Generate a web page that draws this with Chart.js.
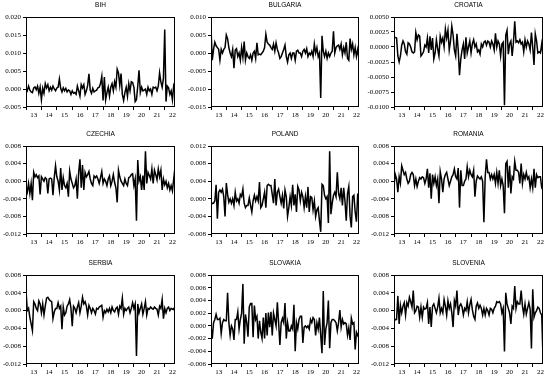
<!DOCTYPE html>
<html>
<head>
<meta charset="utf-8">
<script src="https://cdn.jsdelivr.net/npm/chart.js@4/dist/chart.umd.min.js"></script>
<style>
	html, body { margin: 0; padding: 0; background: #fff; overflow: hidden; }
	#wrap { position: relative; width: 550px; height: 379px; }
	#wrap canvas { position: absolute; }
</style>
</head>
<body>
<div id="wrap"></div>
<script>

/*
 * Monthly observations, 2013M01 .. 2022M09.
 */
const months = [];
for( let y = 2013; y <= 2022; y++ )
{
	for( let m = 1; m <= 12; m++ )
	{
		if( y === 2022 && m > 9 ) break;
		months.push( y + "M" + String( m ).padStart( 2, "0" ) );
	}
}

// Year tick labels (placed in the middle of each year).
const yearLabels = [ "13", "14", "15", "16", "17", "18", "19", "20", "21", "22" ];

const countries = [ "BIH", "BULGARIA", "CROATIA", "CZECHIA", "POLAND", "ROMANIA", "SERBIA", "SLOVAKIA", "SLOVENIA" ];

const bih = [
	0.0002,-0.0005,0.0008,-0.0003,-0.0008,-0.0010,0.0003,0.0006,-0.0002,0.0008,-0.0012,0.0005,
	-0.0030,0.0002,-0.0012,0.0015,0.0003,0.0012,-0.0005,0.0005,-0.0003,0.0008,0.0000,-0.0005,
	0.0003,0.0005,0.0028,0.0002,-0.0008,0.0003,-0.0005,0.0002,-0.0008,-0.0003,-0.0005,-0.0015,
	-0.0005,-0.0012,-0.0010,-0.0015,0.0008,-0.0005,-0.0020,0.0012,0.0003,0.0012,-0.0015,-0.0005,
	0.0010,0.0042,-0.0003,-0.0012,0.0002,-0.0008,-0.0005,-0.0003,0.0003,0.0005,0.0015,0.0035,
	-0.0032,0.0033,-0.0030,-0.0010,0.0005,-0.0020,0.0005,0.0015,-0.0005,0.0020,0.0005,0.0055,
	0.0045,0.0010,0.0043,-0.0015,-0.0032,-0.0010,0.0005,-0.0020,0.0015,-0.0005,0.0020,0.0018,
	0.0005,-0.0035,-0.0030,0.0008,0.0052,-0.0010,0.0005,-0.0005,-0.0003,0.0000,-0.0015,0.0005,
	-0.0005,0.0000,-0.0015,0.0005,0.0003,0.0005,-0.0005,0.0008,0.0045,0.0020,0.0005,0.0030,
	0.0165,-0.0035,0.0008,0.0003,-0.0015,-0.0005,-0.0030,0.0010,0.0002
];

const bulgaria = [
	0.0068,-0.0020,0.0010,0.0030,0.0020,0.0015,0.0010,-0.0020,0.0010,0.0000,0.0010,0.0015,
	0.0050,0.0040,0.0015,0.0000,-0.0010,0.0010,-0.0042,0.0008,0.0012,-0.0010,0.0000,-0.0020,
	0.0015,-0.0012,0.0032,-0.0020,0.0000,-0.0010,-0.0015,-0.0005,-0.0020,0.0000,0.0005,-0.0015,
	0.0028,-0.0005,-0.0003,-0.0005,0.0000,0.0005,0.0015,0.0052,0.0030,0.0025,0.0022,0.0015,
	0.0010,0.0025,0.0005,0.0028,0.0010,0.0000,-0.0015,-0.0010,0.0000,0.0010,0.0022,-0.0010,
	-0.0025,-0.0005,0.0000,-0.0015,0.0000,0.0000,-0.0020,0.0005,0.0008,0.0000,0.0000,-0.0010,
	0.0005,0.0010,0.0000,0.0012,-0.0010,0.0000,-0.0005,0.0005,-0.0010,0.0025,0.0000,0.0015,
	-0.0010,0.0000,-0.0125,0.0048,0.0005,-0.0010,0.0005,-0.0015,0.0000,-0.0010,0.0000,0.0005,
	0.0060,0.0000,0.0015,0.0020,0.0022,0.0010,0.0025,-0.0005,0.0015,0.0000,0.0030,-0.0015,
	-0.0020,0.0040,0.0010,0.0025,-0.0005,0.0015,-0.0010,0.0010,-0.0015
];

const croatia = [
	0.0016,0.0016,0.0015,-0.0015,-0.0025,-0.0015,0.0003,0.0010,0.0005,-0.0008,-0.0012,0.0007,
	0.0005,0.0000,-0.0008,-0.0010,-0.0008,0.0024,0.0012,0.0020,0.0018,-0.0015,-0.0012,-0.0008,
	0.0003,0.0000,0.0015,-0.0010,0.0018,-0.0005,0.0015,-0.0020,-0.0010,0.0012,-0.0003,-0.0015,
	0.0018,0.0008,0.0015,0.0000,0.0030,0.0015,0.0028,-0.0005,0.0010,0.0035,0.0020,-0.0005,
	-0.0015,0.0022,-0.0005,-0.0047,-0.0020,-0.0005,0.0005,-0.0020,0.0016,-0.0010,0.0000,0.0010,
	-0.0010,0.0005,0.0012,0.0000,0.0005,-0.0008,-0.0005,-0.0012,0.0005,0.0000,0.0008,0.0010,
	0.0003,0.0010,0.0008,0.0000,0.0010,0.0005,-0.0005,0.0023,0.0000,0.0010,0.0005,-0.0015,
	0.0005,0.0008,-0.0097,0.0020,0.0028,-0.0012,0.0005,0.0010,-0.0015,0.0008,0.0043,0.0008,
	0.0010,0.0007,0.0012,0.0005,0.0008,-0.0008,0.0012,0.0000,0.0010,0.0005,-0.0005,0.0024,
	0.0000,-0.0030,0.0022,0.0010,-0.0010,-0.0008,-0.0010,0.0005,-0.0012
];

const czechia = [
	-0.0015,-0.0025,-0.0005,-0.0028,-0.0005,-0.0043,0.0020,0.0010,0.0015,0.0008,0.0012,-0.0030,
	0.0010,0.0005,0.0000,0.0008,0.0005,-0.0028,0.0005,0.0007,0.0005,-0.0032,0.0008,0.0035,
	0.0010,0.0000,-0.0020,0.0030,-0.0020,0.0008,-0.0010,-0.0015,-0.0005,-0.0035,0.0023,0.0005,
	-0.0005,-0.0015,-0.0010,0.0005,-0.0040,0.0020,0.0050,-0.0015,0.0037,-0.0020,0.0020,0.0010,
	0.0015,0.0022,0.0005,-0.0005,-0.0010,0.0012,0.0008,0.0012,0.0005,-0.0005,0.0008,0.0022,
	-0.0005,0.0005,0.0000,-0.0010,0.0005,0.0012,-0.0010,0.0000,0.0015,-0.0003,-0.0015,-0.0048,
	0.0025,0.0010,0.0000,-0.0005,-0.0010,0.0005,-0.0005,-0.0010,0.0008,0.0010,0.0015,0.0017,
	-0.0010,0.0005,-0.0090,0.0048,0.0000,0.0010,-0.0020,0.0013,-0.0020,0.0068,-0.0005,0.0020,
	0.0013,0.0005,0.0028,-0.0005,0.0025,0.0015,0.0003,0.0028,0.0010,0.0025,-0.0020,0.0005,
	-0.0008,0.0000,-0.0015,-0.0005,-0.0020,-0.0010,-0.0022,0.0005,0.0032
];

const poland = [
	-0.0015,-0.0010,-0.0010,-0.0005,0.0032,-0.0045,0.0015,0.0020,0.0015,0.0022,0.0005,-0.0040,
	0.0036,0.0010,-0.0008,0.0000,-0.0010,0.0000,-0.0015,0.0015,-0.0005,0.0000,-0.0010,0.0010,
	0.0005,0.0022,-0.0010,-0.0020,-0.0015,-0.0015,0.0002,-0.0015,-0.0030,-0.0005,0.0008,-0.0005,
	0.0005,-0.0005,0.0038,-0.0020,-0.0015,0.0000,0.0015,-0.0020,0.0030,0.0033,0.0030,0.0030,
	0.0010,-0.0010,0.0045,-0.0015,0.0015,0.0022,0.0005,-0.0010,0.0008,-0.0022,0.0020,0.0005,
	-0.0040,-0.0020,0.0005,-0.0015,0.0032,-0.0015,0.0010,-0.0030,0.0028,0.0020,-0.0005,0.0015,
	0.0005,-0.0020,0.0005,-0.0020,0.0027,-0.0030,0.0005,0.0003,-0.0025,-0.0005,-0.0040,-0.0025,
	-0.0020,-0.0050,-0.0075,0.0033,0.0030,0.0008,0.0000,0.0005,-0.0055,0.0108,-0.0035,-0.0010,
	0.0008,0.0015,0.0005,0.0060,0.0012,0.0000,0.0025,-0.0015,0.0025,-0.0005,-0.0050,0.0012,
	0.0028,-0.0040,-0.0065,0.0005,0.0008,-0.0030,-0.0052,0.0012,-0.0010
];

const romania = [
	-0.0010,0.0015,0.0005,-0.0025,0.0010,-0.0005,0.0035,0.0025,0.0015,0.0020,0.0005,-0.0005,
	0.0000,0.0015,0.0020,0.0015,-0.0010,0.0005,-0.0012,0.0000,0.0008,0.0005,0.0010,0.0008,
	-0.0005,0.0005,0.0028,-0.0015,0.0018,-0.0040,0.0015,-0.0005,0.0010,-0.0010,0.0005,-0.0050,
	0.0022,0.0005,-0.0025,0.0005,0.0015,0.0020,0.0005,-0.0010,0.0000,0.0010,0.0015,0.0028,
	0.0010,0.0005,0.0030,-0.0060,0.0025,-0.0010,-0.0010,0.0000,0.0005,0.0033,0.0010,0.0025,
	0.0015,0.0010,0.0025,-0.0035,0.0000,0.0012,0.0008,0.0005,0.0010,0.0000,-0.0093,0.0010,
	0.0050,0.0020,0.0020,0.0005,0.0015,0.0005,0.0015,-0.0005,0.0020,-0.0005,0.0025,-0.0010,
	0.0005,-0.0010,-0.0073,0.0040,0.0045,-0.0015,0.0035,-0.0028,0.0010,0.0005,0.0045,0.0025,
	0.0025,0.0020,-0.0005,0.0040,-0.0005,0.0015,0.0005,0.0020,0.0005,0.0010,-0.0015,0.0005,
	-0.0015,0.0028,-0.0015,0.0015,0.0008,0.0010,0.0010,-0.0015,-0.0020
];

const serbia = [
	0.0045,0.0000,0.0005,-0.0015,-0.0030,-0.0045,0.0020,0.0015,0.0005,0.0000,0.0022,0.0015,
	-0.0005,0.0015,-0.0010,0.0010,0.0028,0.0030,0.0025,0.0022,0.0020,-0.0018,-0.0003,0.0005,
	0.0005,0.0018,0.0005,0.0010,-0.0042,0.0008,-0.0010,-0.0005,0.0010,0.0015,0.0025,0.0005,
	-0.0035,0.0010,0.0005,-0.0005,0.0008,0.0018,-0.0005,0.0010,0.0030,0.0015,0.0020,0.0010,
	-0.0010,0.0012,0.0005,-0.0005,0.0005,0.0000,-0.0008,0.0005,0.0003,0.0008,0.0010,0.0012,
	-0.0015,0.0000,-0.0005,0.0003,-0.0003,0.0005,-0.0005,0.0008,0.0000,-0.0003,0.0005,0.0008,
	-0.0008,0.0010,0.0005,0.0028,-0.0008,0.0005,0.0000,0.0005,0.0008,-0.0005,0.0005,0.0018,
	0.0005,0.0015,-0.0102,0.0015,-0.0005,0.0005,0.0015,-0.0008,0.0005,0.0020,-0.0010,0.0005,
	0.0003,0.0008,0.0005,0.0003,0.0008,0.0005,0.0003,-0.0010,0.0010,0.0005,0.0025,-0.0018,
	0.0005,-0.0005,0.0005,0.0008,0.0000,0.0005,0.0003,0.0005,-0.0003
];

const slovakia = [
	0.0000,-0.0020,0.0005,0.0010,0.0018,0.0010,0.0010,0.0012,-0.0012,0.0005,0.0010,0.0008,
	0.0008,0.0052,0.0005,-0.0015,0.0000,-0.0005,-0.0022,0.0010,0.0010,0.0022,-0.0005,0.0010,
	0.0020,0.0066,-0.0028,0.0018,0.0005,-0.0017,0.0030,0.0035,0.0035,-0.0018,0.0032,0.0010,
	0.0015,-0.0020,0.0008,-0.0010,-0.0020,0.0013,-0.0020,0.0020,-0.0015,0.0021,-0.0002,0.0022,
	-0.0015,0.0020,0.0010,0.0000,0.0037,0.0005,-0.0030,0.0005,0.0012,0.0005,0.0036,-0.0020,
	0.0005,-0.0008,-0.0008,0.0000,-0.0005,0.0033,-0.0040,0.0005,-0.0005,0.0010,0.0015,0.0015,
	-0.0027,-0.0002,0.0000,-0.0003,0.0000,-0.0005,0.0010,0.0005,0.0013,0.0010,-0.0015,0.0005,
	-0.0005,0.0013,-0.0015,-0.0043,0.0055,-0.0030,-0.0005,0.0005,0.0040,-0.0035,0.0005,0.0010,
	0.0010,0.0008,0.0005,-0.0008,0.0005,0.0025,-0.0002,0.0010,0.0003,0.0005,0.0003,-0.0015,
	-0.0003,-0.0022,0.0012,0.0003,0.0005,-0.0037,-0.0010,-0.0015,-0.0010
];

const slovenia = [
	-0.0025,-0.0020,-0.0020,0.0033,-0.0030,0.0012,-0.0005,0.0010,0.0018,-0.0010,0.0018,0.0010,
	0.0030,0.0020,0.0008,0.0045,-0.0005,0.0000,0.0010,0.0008,-0.0015,0.0008,-0.0015,0.0008,
	0.0003,0.0005,0.0018,-0.0030,0.0008,-0.0037,0.0010,0.0015,0.0005,-0.0005,0.0008,0.0028,
	-0.0005,0.0005,-0.0005,0.0025,0.0010,-0.0010,0.0022,0.0005,0.0015,-0.0005,-0.0037,0.0022,
	0.0010,0.0045,-0.0010,0.0010,0.0015,0.0008,-0.0010,0.0005,0.0000,0.0020,-0.0005,0.0013,
	0.0025,0.0002,-0.0013,-0.0020,0.0010,0.0017,0.0005,0.0012,0.0005,-0.0010,0.0005,-0.0010,
	0.0005,0.0000,-0.0010,0.0005,0.0003,-0.0005,0.0005,0.0010,0.0020,0.0018,0.0020,0.0015,
	-0.0005,0.0005,-0.0092,0.0040,0.0015,0.0005,-0.0005,-0.0030,0.0010,0.0005,0.0055,0.0005,
	0.0020,0.0015,0.0015,0.0045,0.0010,-0.0008,0.0015,-0.0008,0.0005,0.0018,0.0003,-0.0085,
	0.0048,-0.0015,-0.0005,0.0000,0.0008,0.0005,-0.0005,-0.0010,-0.0105
];

const series = [ bih, bulgaria, croatia, czechia, poland, romania, serbia, slovakia, slovenia ];

// Y axis: [ min, max, step, decimals ] per panel.
const yAxes = [
	[ -0.005, 0.020, 0.005, 3 ],
	[ -0.015, 0.010, 0.005, 3 ],
	[ -0.0100, 0.0050, 0.0025, 4 ],
	[ -0.012, 0.008, 0.004, 3 ],
	[ -0.008, 0.012, 0.004, 3 ],
	[ -0.012, 0.008, 0.004, 3 ],
	[ -0.012, 0.008, 0.004, 3 ],
	[ -0.006, 0.008, 0.002, 3 ],
	[ -0.012, 0.008, 0.004, 3 ]
];

/*
 * Panel geometry (plot frame in page pixels).
 */
const canvasLeft = [ 0, 181, 362 ];
const plotLeft   = [ 26, 211, 394 ];
const plotRight  = [ 175, 359, 543 ];
const plotTop    = [ 17, 146, 275 ];
const plotBottom = [ 107, 234, 364 ];
const TITLE_H = 17, AXIS_H = 15, RIGHT_PAD = 3;

// Frame + title drawn around the plot area.
const framePlugin = {
	id: "frame",
	afterDraw: function( chart )
	{
		const ca = chart.chartArea;
		const ctx = chart.ctx;
		ctx.save();
		ctx.strokeStyle = "#000";
		ctx.lineWidth = 1;
		ctx.strokeRect( ca.left + 0.5, ca.top + 0.5, ca.width - 1, ca.height - 1 );
		ctx.fillStyle = "#000";
		ctx.font = "6.5px 'Liberation Sans', Arial, sans-serif";
		ctx.textAlign = "center";
		ctx.textBaseline = "middle";
		ctx.fillText( chart.options.plugins.frame.title, ( ca.left + ca.right ) / 2, ca.top - 11.5 );
		ctx.restore();
	}
};

const wrap = document.getElementById( "wrap" );
const yearStarts = yearLabels.map( ( l, i ) => i * 12 );

countries.forEach( ( name, k ) =>
{
	const col = k % 3, row = Math.floor( k / 3 );
	const yW = plotLeft[col] - canvasLeft[col];
	const pw = plotRight[col] - plotLeft[col];
	const ph = plotBottom[row] - plotTop[row];
	const [ yMin, yMax, yStep, dec ] = yAxes[k];
	
	const canvas = document.createElement( "canvas" );
	canvas.width = yW + pw + RIGHT_PAD;
	canvas.height = TITLE_H + ph + AXIS_H;
	canvas.style.left = canvasLeft[col] + "px";
	canvas.style.top = ( plotTop[row] - TITLE_H ) + "px";
	wrap.appendChild( canvas );
	
	const tickFont = { family: "'Liberation Serif', 'Times New Roman', serif", size: 7 };
	
	new Chart( canvas, {
		type: "line",
		data: {
			datasets: [{
				data: series[k].map( ( v, i ) => ({ x: i, y: v }) ),
				borderColor: "#000",
				borderWidth: 1.5,
				pointRadius: 0,
				tension: 0
			}]
		},
		options: {
			responsive: false,
			animation: false,
			devicePixelRatio: 1,
			events: [],
			layout: { padding: { top: TITLE_H, right: RIGHT_PAD, left: 0, bottom: 0 } },
			plugins: {
				legend: { display: false },
				tooltip: { enabled: false },
				frame: { title: name }
			},
			scales: {
				x: {
					type: "linear",
					min: 0,
					max: months.length - 1,
					afterBuildTicks: axis => { axis.ticks = yearStarts.map( v => ({ value: v }) ); },
					afterFit: axis => { axis.height = AXIS_H; },
					border: { display: false },
					grid: { drawOnChartArea: false, drawTicks: true, tickLength: 3, color: "#000", lineWidth: 1 },
					ticks: {
						autoSkip: false,
						maxRotation: 0,
						padding: 1,
						labelOffset: pw * 6 / ( months.length - 1 ),
						color: "#000",
						font: tickFont,
						callback: ( v, i ) => yearLabels[i]
					}
				},
				y: {
					min: yMin,
					max: yMax,
					afterBuildTicks: axis =>
					{
						const n = Math.round( ( yMax - yMin ) / yStep );
						axis.ticks = [];
						for( let i = 0; i <= n; i++ )
						{
							axis.ticks.push({ value: yMin + i * yStep });
						}
					},
					afterFit: axis => { axis.width = yW; },
					border: { display: false },
					grid: { drawOnChartArea: false, drawTicks: true, tickLength: 3, color: "#000", lineWidth: 1 },
					ticks: {
						padding: 2,
						color: "#000",
						font: tickFont,
						callback: v => ( Math.abs( v ) < 1e-12 ? 0 : v ).toFixed( dec )
					}
				}
			}
		},
		plugins: [ framePlugin ]
	});
});
</script>
</body>
</html>
